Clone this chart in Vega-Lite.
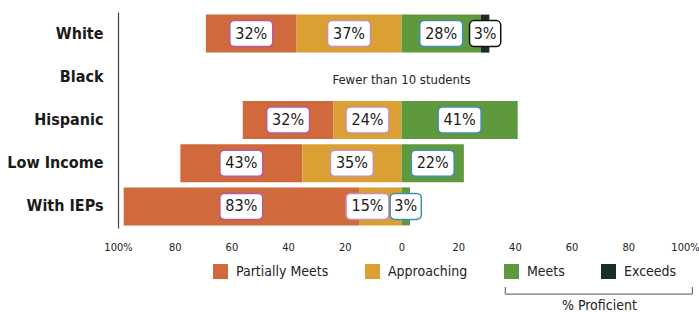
{
  "$schema": "https://vega.github.io/schema/vega-lite/v6.json",
  "width": 567,
  "height": 216,
  "autosize": "none",
  "padding": {"left": 118, "top": 12, "right": 14, "bottom": 84},
  "background": "white",
  "config": {
    "view": {"stroke": null},
    "font": "DejaVu Sans Condensed"
  },
  "datasets": {
    "scores": [
      {"group": "White", "level": "Partially Meets", "pct": 32},
      {"group": "White", "level": "Approaching", "pct": 37},
      {"group": "White", "level": "Meets", "pct": 28},
      {"group": "White", "level": "Exceeds", "pct": 3},
      {"group": "Hispanic", "level": "Partially Meets", "pct": 32},
      {"group": "Hispanic", "level": "Approaching", "pct": 24},
      {"group": "Hispanic", "level": "Meets", "pct": 41},
      {"group": "Low Income", "level": "Partially Meets", "pct": 43},
      {"group": "Low Income", "level": "Approaching", "pct": 35},
      {"group": "Low Income", "level": "Meets", "pct": 22},
      {"group": "With IEPs", "level": "Partially Meets", "pct": 83},
      {"group": "With IEPs", "level": "Approaching", "pct": 15},
      {"group": "With IEPs", "level": "Meets", "pct": 3}
    ],
    "notes": [
      {"group": "Black", "note": "Fewer than 10 students"}
    ],
    "proficient": [
      {"from": 36.6, "to": 102.6, "center": 69.8, "label": "% Proficient"}
    ]
  },
  "layer": [
    {
      "layer": [
        {
          "data": {"name": "scores"},
          "transform": [
            {"calculate": "(datum.level === 'Partially Meets' || datum.level === 'Approaching') ? -datum.pct : datum.pct", "as": "signed"},
            {"calculate": "(datum.level === 'Approaching' || datum.level === 'Meets') ? 0 : 1", "as": "rank"},
            {"stack": "signed", "groupby": ["group"], "sort": [{"field": "rank", "order": "ascending"}], "as": ["x0", "x1"], "offset": "zero"},
            {"calculate": "(datum.x0 + datum.x1) / 2", "as": "mid"},
            {"calculate": "datum.level === 'Approaching' && datum.pct < 20 ? datum.mid - 4.5 : datum.mid", "as": "labelX"},
            {"calculate": "datum.pct + '%'", "as": "label"},
            {"calculate": "length(datum.label)", "as": "chars"}
          ],
          "layer": [
            {
              "mark": {"type": "bar", "height": {"band": 1}},
              "encoding": {
                "y": {
                  "field": "group", "type": "nominal",
                  "scale": {"domain": ["White", "Black", "Hispanic", "Low Income", "With IEPs"], "paddingInner": 0.12, "paddingOuter": 0.06},
                  "axis": {
                    "title": null, "ticks": false, "domain": true, "domainColor": "#444", "domainWidth": 1.2,
                    "labelFont": "DejaVu Sans Condensed", "labelFontWeight": "bold", "labelFontSize": 16,
                    "labelColor": "#1a1a1a", "labelPadding": 15
                  }
                },
                "x": {
                  "field": "x0", "type": "quantitative",
                  "scale": {"domain": [-100, 100], "nice": false},
                  "axis": {
                    "title": null, "grid": false, "ticks": false, "domain": false,
                    "values": [-100, -80, -60, -40, -20, 0, 20, 40, 60, 80, 100],
                    "labelExpr": "abs(datum.value) === 100 ? '100%' : '' + abs(datum.value)",
                    "labelFontSize": 11, "labelColor": "#222", "labelPadding": 13,
                    "labelFlush": false, "labelOverlap": false
                  }
                },
                "x2": {"field": "x1"},
                "color": {
                  "field": "level", "type": "nominal",
                  "scale": {
                    "domain": ["Partially Meets", "Approaching", "Meets", "Exceeds"],
                    "range": ["#d0693b", "#dba034", "#5e9a3d", "#1d2c25"]
                  },
                  "legend": {
                    "title": null, "orient": "none", "direction": "horizontal",
                    "legendX": 95, "legendY": 252,
                    "symbolType": "square", "symbolSize": 225, "symbolStrokeWidth": 0,
                    "labelFontSize": 14, "labelColor": "#222", "labelOffset": 8,
                    "columnPadding": 36
                  }
                }
              }
            },
            {
              "mark": {"type": "point", "filled": true, "fill": "white", "opacity": 1, "size": 676, "strokeWidth": 1.5},
              "encoding": {
                "y": {"field": "group", "type": "nominal"},
                "x": {"field": "labelX", "type": "quantitative"},
                "shape": {
                  "field": "chars", "type": "ordinal",
                  "scale": {
                    "domain": [2, 3],
                    "range": [
                      "M-0.85,-1H0.85A0.35,0.35,0,0,1,1.2,-0.65V0.65A0.35,0.35,0,0,1,0.85,1H-0.85A0.35,0.35,0,0,1,-1.2,0.65V-0.65A0.35,0.35,0,0,1,-0.85,-1Z",
                      "M-1.3,-1H1.3A0.35,0.35,0,0,1,1.65,-0.65V0.65A0.35,0.35,0,0,1,1.3,1H-1.3A0.35,0.35,0,0,1,-1.65,0.65V-0.65A0.35,0.35,0,0,1,-1.3,-1Z"
                    ]
                  },
                  "legend": null
                },
                "stroke": {
                  "field": "level", "type": "nominal",
                  "scale": {
                    "domain": ["Partially Meets", "Approaching", "Meets", "Exceeds"],
                    "range": ["#b85a9a", "#c98fb0", "#3e8fb0", "#111111"]
                  },
                  "legend": null
                }
              }
            },
            {
              "mark": {"type": "text", "fontSize": 16, "color": "#1a1a1a", "baseline": "middle", "align": "center"},
              "encoding": {
                "y": {"field": "group", "type": "nominal"},
                "x": {"field": "labelX", "type": "quantitative"},
                "text": {"field": "label"}
              }
            }
          ]
        },
        {
          "data": {"name": "notes"},
          "mark": {"type": "text", "fontSize": 13, "color": "#222", "baseline": "middle", "align": "center", "dy": 3},
          "encoding": {
            "y": {"field": "group", "type": "nominal"},
            "x": {"datum": 0, "type": "quantitative"},
            "text": {"field": "note"}
          }
        }
      ]
    },
    {
      "data": {"name": "proficient"},
      "layer": [
        {
          "mark": {"type": "rule", "color": "#555", "strokeWidth": 1},
          "encoding": {
            "x": {"field": "from", "type": "quantitative"},
            "x2": {"field": "to"},
            "y": {"datum": -0.306, "type": "quantitative", "scale": {"domain": [0, 1]}, "axis": null}
          }
        },
        {
          "mark": {"type": "rule", "color": "#555", "strokeWidth": 1},
          "encoding": {
            "x": {"field": "from", "type": "quantitative"},
            "y": {"datum": -0.306, "type": "quantitative", "axis": null},
            "y2": {"datum": -0.273}
          }
        },
        {
          "mark": {"type": "rule", "color": "#555", "strokeWidth": 1},
          "encoding": {
            "x": {"field": "to", "type": "quantitative"},
            "y": {"datum": -0.306, "type": "quantitative", "axis": null},
            "y2": {"datum": -0.273}
          }
        },
        {
          "mark": {"type": "text", "fontSize": 14, "color": "#222", "baseline": "middle", "align": "center"},
          "encoding": {
            "x": {"field": "center", "type": "quantitative"},
            "y": {"datum": -0.363, "type": "quantitative", "axis": null},
            "text": {"field": "label"}
          }
        }
      ]
    }
  ],
  "resolve": {"scale": {"y": "independent"}}
}
